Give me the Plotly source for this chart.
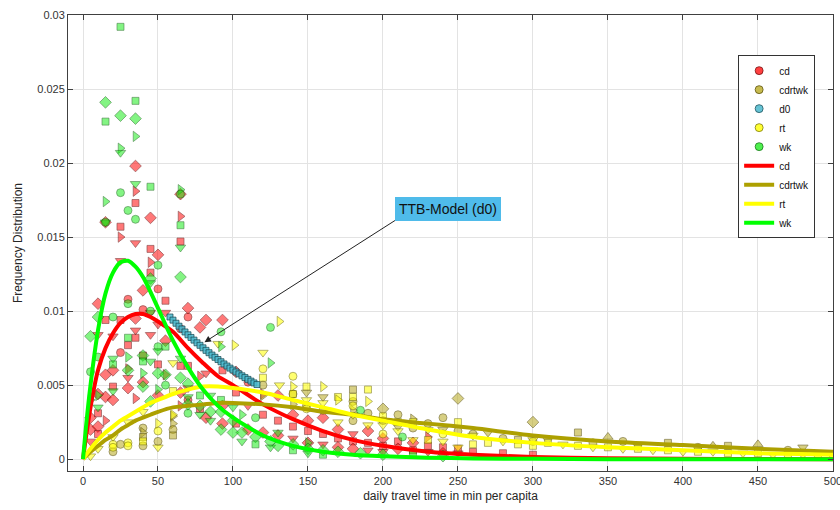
import plotly.graph_objects as go

# ---------------- data ----------------
# fitted model curves
curve_x = [0, 2, 5, 10, 15, 20, 25, 30, 35, 40, 45, 50, 60, 70, 80, 90, 100,
           120, 140, 160, 180, 200, 230, 260, 300, 350, 400, 450, 500]
cd_curve = [0, 0.0015, 0.0035, 0.0060, 0.0075, 0.0085, 0.0092, 0.0096, 0.0098, 0.0098,
            0.0096, 0.0093, 0.0086, 0.0075, 0.0065, 0.0056, 0.0050, 0.0037, 0.0027,
            0.0019, 0.0013, 0.0009, 0.0005, 0.0003, 0.00015, 0.00006, 0.00003, 0.00001, 0.0]
cdrtwk_curve = [0, 0.0002, 0.0005, 0.0009, 0.0013, 0.0016, 0.0020, 0.0023, 0.0026, 0.0028,
                0.0030, 0.0032, 0.0035, 0.0036, 0.0037, 0.0038, 0.0038, 0.0037, 0.0035,
                0.0032, 0.0030, 0.0027, 0.0024, 0.0021, 0.0016, 0.0012, 0.00095, 0.0007, 0.0005]
rt_curve = [0, 0.0003, 0.0007, 0.0013, 0.0018, 0.0022, 0.0026, 0.0029, 0.0032, 0.0035,
            0.0038, 0.0040, 0.0044, 0.0047, 0.0049, 0.0049, 0.0048, 0.0045, 0.0040,
            0.0035, 0.0030, 0.0026, 0.0020, 0.0015, 0.0011, 0.0008, 0.0006, 0.0004, 0.0003]
wk_curve = [0, 0.0022, 0.0050, 0.0087, 0.0112, 0.0126, 0.0133, 0.0134, 0.0130, 0.0123,
            0.0113, 0.0102, 0.0080, 0.0062, 0.0047, 0.0036, 0.0028, 0.0016, 0.0009,
            0.0005, 0.0003, 0.0002, 0.0001, 0.00005, 0.00002, 0, 0, 0, 0]

# observed points: one x per column, the y values in that column and a
# source code per value (A..F = survey subsets)
cd_x = [5, 10, 15, 20, 25, 30, 35, 40, 45, 50, 55, 65, 70, 78, 82, 93, 102, 110, 120,
        130, 140, 150, 160, 170, 180, 190, 200, 210, 220, 230, 240, 250, 260, 280, 300]
cd_y = [[0.0012, 0.0020, 0.0028],
        [0.0105, 0.0084, 0.0044, 0.0031, 0.0022, 0.0017],
        [0.0160, 0.0094, 0.0057, 0.0042, 0.0026],
        [0.0083, 0.0060, 0.0049, 0.0040],
        [0.0157, 0.0150, 0.0134, 0.0094, 0.0072],
        [0.0108, 0.0077, 0.0061, 0.0055, 0.0048],
        [0.0198, 0.0181, 0.0173, 0.0146, 0.0095, 0.0087, 0.0082, 0.0041],
        [0.0114, 0.0101, 0.0070, 0.0052],
        [0.0163, 0.0142, 0.0133, 0.0126, 0.0099, 0.0084],
        [0.0138, 0.0115, 0.0091, 0.0064, 0.0043],
        [0.0107, 0.0099, 0.0080, 0.0057],
        [0.0179, 0.0164, 0.0147, 0.0088, 0.0063, 0.0045, 0.0036],
        [0.0102, 0.0096, 0.0063, 0.0048, 0.0040],
        [0.0089, 0.0056, 0.0034],
        [0.0094, 0.0058, 0.0028],
        [0.0094, 0.0060, 0.0036, 0.0024],
        [0.0059, 0.0045, 0.0024],
        [0.0052, 0.0036, 0.0020],
        [0.0044, 0.0030, 0.0018],
        [0.0043, 0.0026, 0.0016],
        [0.0030, 0.0022, 0.0014],
        [0.0026, 0.0019, 0.0011],
        [0.0028, 0.0017, 0.0010],
        [0.0020, 0.0014, 0.0008],
        [0.0017, 0.0012, 0.0007],
        [0.0019, 0.0011, 0.0006],
        [0.0014, 0.0009, 0.0005],
        [0.0012, 0.0007],
        [0.0011, 0.0006],
        [0.0015, 0.0009, 0.0005],
        [0.0008, 0.0004],
        [0.0007, 0.0004],
        [0.0005],
        [0.0004],
        [0.0003]]
cd_src = ["DCC", "CDCBCB", "CBCCE", "DCBC", "BEDBA", "ABEDC", "CEBDCDBE", "CABC",
          "CBEBDD", "CADBC", "BDCE", "CEBABCE", "CABDA", "CEB", "CDC", "CBCC", "CBB",
          "ADC", "EBC", "CBC", "CBD", "CBC", "CBD", "CBC", "DBC", "CBD", "CBD", "BC",
          "CB", "EBD", "BC", "BD", "B", "B", "B"]

cdrtwk_x = [20, 25, 40, 50, 60, 120, 140, 149, 160, 180, 190, 200, 210, 220, 230, 240,
            250, 260, 270, 280, 290, 300, 310, 330, 340, 350, 360, 370, 390, 410, 420,
            430, 450, 470, 480]
cdrtwk_y = [[0.0005], [0.0010], [0.0021, 0.0018, 0.0015, 0.0009], [0.0012],
            [0.0029, 0.0024, 0.0020, 0.0016], [0.0050, 0.0043], [0.0044, 0.0037],
            [0.0045, 0.0036], [0.0042, 0.0033], [0.0047, 0.0039, 0.0033, 0.0026],
            [0.0031], [0.0034, 0.0026], [0.0030, 0.0022], [0.0027, 0.0021], [0.0024],
            [0.0028, 0.0020], [0.0041, 0.0019], [0.0017], [0.0018], [0.0014], [0.0013],
            [0.0025, 0.0012], [0.0013], [0.0018], [0.0011], [0.0015], [0.0012], [0.0009],
            [0.0011], [0.0008], [0.0009], [0.0009], [0.0010], [0.0006], [0.0008]]
cdrtwk_src = ["A", "A", "AEBA", "A", "EEAB", "AE", "AE", "DA", "DA", "BAEA", "A", "CA",
              "AD", "EA", "A", "AD", "CA", "A", "D", "A", "B", "CA", "D", "B", "A", "F",
              "A", "D", "B", "A", "F", "B", "F", "A", "D"]

d0_x = [58, 60, 62, 64, 66, 68, 70, 72, 74, 76, 78, 80, 82, 84, 86, 88, 90, 92, 94, 96,
        98, 100, 102, 104, 106, 108, 110, 112, 114, 116]
d0_y = [0.00960, 0.00939, 0.00918, 0.00898, 0.00879, 0.00859, 0.00840, 0.00822,
        0.00804, 0.00786, 0.00769, 0.00752, 0.00735, 0.00719, 0.00703, 0.00688,
        0.00673, 0.00658, 0.00643, 0.00629, 0.00615, 0.00602, 0.00589, 0.00576,
        0.00563, 0.00551, 0.00539, 0.00527, 0.00515, 0.00504]

rt_x = [5, 10, 20, 30, 40, 50, 60, 90, 101, 120, 131, 140, 149, 160, 170, 180, 190, 200,
        210, 220, 230, 240, 250, 260, 270, 280, 290, 300, 310, 320, 330, 340, 350, 360,
        370, 380, 390, 400, 410, 420, 430, 440, 450, 460, 470, 480, 490, 500]
rt_y = [[0.0002], [0.0007], [0.0015, 0.0010, 0.0008], [0.0025, 0.0011, 0.0009],
        [0.0032, 0.0012], [0.0024, 0.0019, 0.0008], [0.0065, 0.0046, 0.0030], [0.0078],
        [0.0077], [0.0072, 0.0061, 0.0055], [0.0093, 0.0050], [0.0056, 0.0049, 0.0044],
        [0.0049, 0.0040, 0.0034], [0.0049, 0.0038], [0.0042, 0.0040, 0.0025],
        [0.0042, 0.0036, 0.0030], [0.0047, 0.0039, 0.0023], [0.0029, 0.0023, 0.0017],
        [0.0025, 0.0019], [0.0025, 0.0013], [0.0020, 0.0013], [0.0017, 0.0012],
        [0.0025, 0.0008], [0.0016, 0.0010], [0.0011], [0.0012], [0.0010],
        [0.0013, 0.0009], [0.0011], [0.0010], [0.0009], [0.0008], [0.0008], [0.0007],
        [0.0007], [0.0006], [0.0006], [0.0005], [0.0005], [0.0005], [0.0004], [0.0004],
        [0.0004], [0.0003], [0.0003], [0.0003], [0.0003], [0.0003]]
rt_src = ["D", "D", "DAA", "DAA", "DB", "EAD", "DBE", "D", "E", "DAB", "ED", "AEB", "BDA",
          "ED", "BED", "BAD", "BED", "BDA", "BD", "BD", "DB", "AD", "BD", "DB", "B", "D",
          "B", "DB", "B", "D", "B", "D", "B", "D", "B", "D", "B", "D", "B", "D", "B", "D",
          "B", "D", "B", "D", "B", "A"]

wk_x = [5, 10, 15, 20, 25, 30, 35, 40, 45, 50, 55, 65, 70, 78, 85, 92, 100, 106, 115,
        125, 130, 140, 150, 160, 170, 185, 200, 213, 220, 240]
wk_y = [[0.0083, 0.0059, 0.0040],
        [0.0096, 0.0069, 0.0043, 0.0035],
        [0.0241, 0.0228, 0.0174, 0.0160, 0.0160],
        [0.0096, 0.0068, 0.0064, 0.0046],
        [0.0292, 0.0232, 0.0210, 0.0207, 0.0180],
        [0.0168, 0.0105, 0.0082, 0.0069, 0.0060],
        [0.0242, 0.0230, 0.0218, 0.0186, 0.0162],
        [0.0070, 0.0066, 0.0058, 0.0049],
        [0.0184, 0.0122, 0.0119, 0.0100, 0.0066, 0.0039],
        [0.0131, 0.0076, 0.0073, 0.0058, 0.0047],
        [0.0076, 0.0057, 0.0050],
        [0.0182, 0.0179, 0.0158, 0.0143, 0.0123, 0.0068, 0.0055],
        [0.0051, 0.0042, 0.0037, 0.0031],
        [0.0043, 0.0036, 0.0030],
        [0.0043, 0.0032, 0.0026],
        [0.0086, 0.0076, 0.0040, 0.0032, 0.0020],
        [0.0035, 0.0026, 0.0018],
        [0.0030, 0.0018, 0.0012],
        [0.0028, 0.0015, 0.0010],
        [0.0089, 0.0065, 0.0012, 0.0008],
        [0.0018, 0.0009],
        [0.0010, 0.0006],
        [0.0011, 0.0007, 0.0004],
        [0.0006, 0.0003],
        [0.0005],
        [0.0033, 0.0004],
        [0.0003],
        [0.0015],
        [0.0004],
        [0.0002]]
wk_src = ["CAE", "CAED", "CBEDA", "ADBD", "BCEDA", "AABEC", "BCEDA", "CBEC", "BCDADC",
          "AADCE", "BCA", "EABDCDC", "CDCA", "BCD", "DCD", "AEBCC", "DCC", "ECD", "ACB",
          "AECD", "DC", "CB", "ECD", "CB", "C", "AC", "C", "A", "B", "C"]

x_ticks = [0, 50, 100, 150, 200, 250, 300, 350, 400, 450, 500]
y_ticks = [0, 0.005, 0.01, 0.015, 0.02, 0.025, 0.03]
y_ticktext = ["0", "0.005", "0.01", "0.015", "0.02", "0.025", "0.03"]

# ---------------- styling ----------------
SYMBOLS = {"A": "circle", "B": "square", "C": "diamond", "D": "triangle-down",
           "E": "triangle-right", "F": "triangle-up"}
SIZES = {"A": 8, "B": 7, "C": 9, "D": 9, "E": 9, "F": 9}
FONT = "Liberation Sans, Arial, sans-serif"


def flatten(xs, cols, srcs):
    X, Y, S, Z = [], [], [], []
    for x, col, s in zip(xs, cols, srcs):
        for v, c in zip(col, s):
            X.append(x)
            Y.append(v)
            S.append(SYMBOLS[c])
            Z.append(SIZES[c])
    return X, Y, S, Z


fig = go.Figure()

groups = [
    ("cd", cd_x, cd_y, cd_src, "rgba(255,0,0,0.75)", "rgba(90,0,0,0.65)"),
    ("cdrtwk", cdrtwk_x, cdrtwk_y, cdrtwk_src, "rgba(185,170,35,0.8)", "rgba(80,70,0,0.7)"),
    ("d0", None, None, None, "rgba(75,185,205,0.85)", "rgba(20,70,80,0.7)"),
    ("rt", rt_x, rt_y, rt_src, "rgba(255,255,0,0.8)", "rgba(110,105,0,0.7)"),
    ("wk", wk_x, wk_y, wk_src, "rgba(20,235,20,0.75)", "rgba(0,80,0,0.6)"),
]

for name, gx, gy, gs, fill, edge in groups:
    if name == "d0":
        fig.add_trace(go.Scatter(
            x=d0_x, y=d0_y, mode="markers", showlegend=False, hoverinfo="skip",
            marker=dict(symbol="square", size=6, color=fill, line=dict(color=edge, width=1))))
    else:
        X, Y, S, Z = flatten(gx, gy, gs)
        fig.add_trace(go.Scatter(
            x=X, y=Y, mode="markers", showlegend=False,
            marker=dict(symbol=S, size=Z, color=fill, line=dict(color=edge, width=1))))
    # legend entry (circle)
    fig.add_trace(go.Scatter(
        x=[None], y=[None], mode="markers", name=name,
        marker=dict(symbol="circle", size=8, color=fill, line=dict(color=edge, width=1))))

curves = [("cd", cd_curve, "#FF0000"), ("cdrtwk", cdrtwk_curve, "#ADA000"),
          ("rt", rt_curve, "#FFFF00"), ("wk", wk_curve, "#00FF00")]
for name, cy, col in curves:
    fig.add_trace(go.Scatter(
        x=curve_x, y=cy, mode="lines", name=name,
        line=dict(color=col, width=4, shape="spline", smoothing=0.7)))

axis_common = dict(
    showline=True, linecolor="#404040", linewidth=1, mirror="allticks",
    ticks="inside", ticklen=5, tickcolor="#404040", automargin=False,
    showgrid=True, gridcolor="#E3E3E3", gridwidth=1, zeroline=False,
    tickfont=dict(family=FONT, size=11, color="#333333"),
)

fig.update_layout(
    width=840, height=510,
    margin=dict(l=68, r=7, t=15, b=39),
    paper_bgcolor="white", plot_bgcolor="white",
    font=dict(family=FONT, size=11, color="#262626"),
    xaxis=dict(range=[-10, 500.05], tickvals=x_ticks, ticklabeloverflow="allow",
               **axis_common,
               title=dict(text="daily travel time in min per capita",
                          font=dict(family=FONT, size=12, color="#262626"), standoff=5)),
    yaxis=dict(range=[-0.0008, 0.03], tickvals=y_ticks, ticktext=y_ticktext, **axis_common,
               title=dict(text="Frequency Distribution",
                          font=dict(family=FONT, size=12, color="#262626"), standoff=12)),
    legend=dict(x=0.876, y=0.912, xanchor="left", yanchor="top",
                bgcolor="white", bordercolor="#333333", borderwidth=1,
                font=dict(family=FONT, size=10, color="#111111"),
                tracegroupgap=0, itemwidth=30),
    annotations=[dict(
        x=81, y=0.0079, xref="x", yref="y",
        ax=208, ay=0.01612, axref="x", ayref="y",
        text="TTB-Model (d0)", showarrow=True, arrowhead=2, arrowsize=1.3,
        arrowwidth=1, arrowcolor="#222222",
        xanchor="left", yanchor="bottom",
        font=dict(family=FONT, size=14, color="#111111"),
        bgcolor="#4FBBEA", borderpad=4, borderwidth=0,
    )],
)

fig.write_html("out.html")
